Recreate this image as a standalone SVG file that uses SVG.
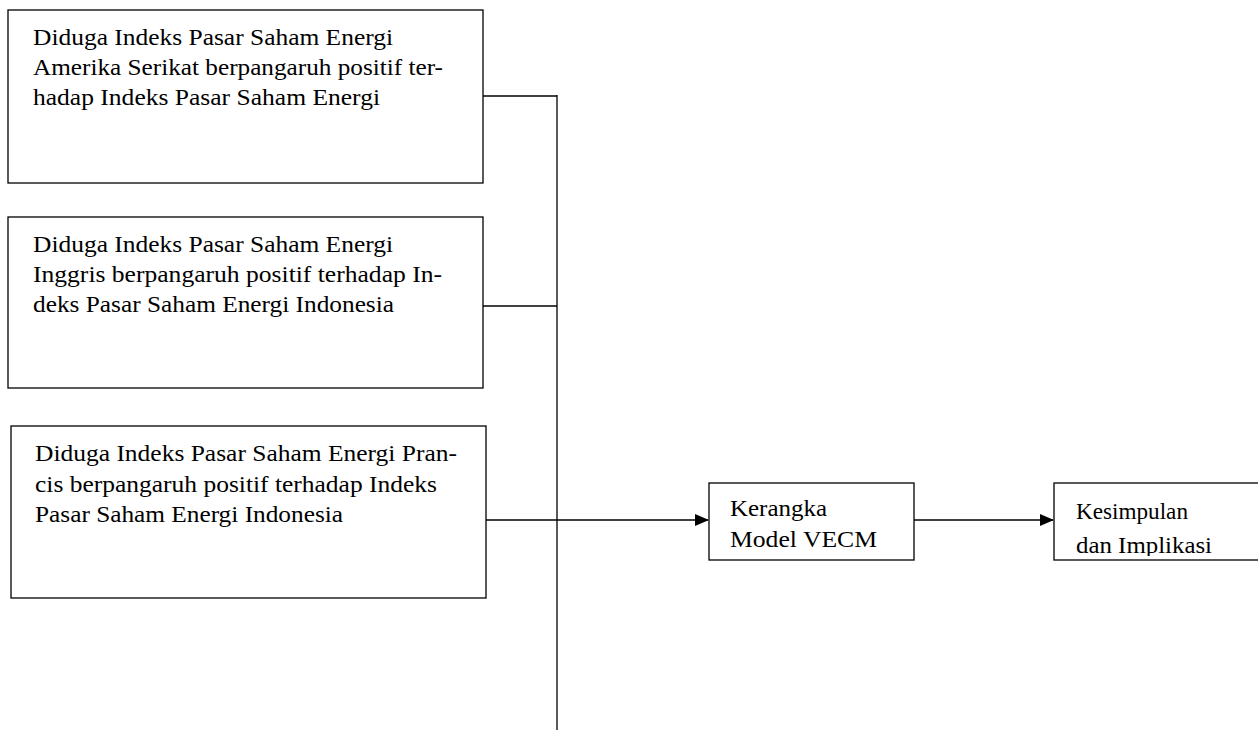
<svg xmlns="http://www.w3.org/2000/svg" width="1258" height="730" viewBox="0 0 1258 730">
<style>
.box{fill:#fff;stroke:#000;stroke-width:1.3}
.t{font-family:"Liberation Serif","Times New Roman",serif;font-size:24px;fill:#000}
.c{fill:none;stroke:#000;stroke-width:1.3}
</style>
<defs>
<marker id="arr" markerWidth="14" markerHeight="14" refX="13" refY="7" orient="auto" markerUnits="userSpaceOnUse">
<path d="M0,1 L14,7 L0,13 Z" fill="#000"/>
</marker>
<clipPath id="clipK"><rect x="1054" y="483" width="210" height="73"/></clipPath>
</defs>
<g id="connectors">
<path class="c" d="M557,95 V730"/>
<path class="c" d="M483,96 H557"/>
<path class="c" d="M483,306 H557"/>
<path class="c" d="M486,520 H708" marker-end="url(#arr)"/>
<path class="c" d="M914,520 H1053" marker-end="url(#arr)"/>
</g>
<g id="node1">
<rect class="box" x="8" y="10" width="475" height="173"/>
<text class="t" x="33" y="45" textLength="360" lengthAdjust="spacingAndGlyphs">Diduga Indeks Pasar Saham Energi</text>
<text class="t" x="33" y="75" textLength="410" lengthAdjust="spacingAndGlyphs">Amerika Serikat berpangaruh positif ter-</text>
<text class="t" x="33" y="105" textLength="347" lengthAdjust="spacingAndGlyphs">hadap Indeks Pasar Saham Energi</text>
</g>
<g id="node2">
<rect class="box" x="8" y="217" width="475" height="171"/>
<text class="t" x="33" y="252" textLength="360" lengthAdjust="spacingAndGlyphs">Diduga Indeks Pasar Saham Energi</text>
<text class="t" x="33" y="282" textLength="409" lengthAdjust="spacingAndGlyphs">Inggris berpangaruh positif terhadap In-</text>
<text class="t" x="33" y="312" textLength="361" lengthAdjust="spacingAndGlyphs">deks Pasar Saham Energi Indonesia</text>
</g>
<g id="node3">
<rect class="box" x="11" y="426" width="475" height="172"/>
<text class="t" x="35" y="461" textLength="422" lengthAdjust="spacingAndGlyphs">Diduga Indeks Pasar Saham Energi Pran-</text>
<text class="t" x="35" y="492" textLength="402" lengthAdjust="spacingAndGlyphs">cis berpangaruh positif terhadap Indeks</text>
<text class="t" x="35" y="522" textLength="308" lengthAdjust="spacingAndGlyphs">Pasar Saham Energi Indonesia</text>
</g>
<g id="node4">
<rect class="box" x="709" y="483" width="205" height="77"/>
<text class="t" x="730" y="516" textLength="97" lengthAdjust="spacingAndGlyphs">Kerangka</text>
<text class="t" x="730" y="547" textLength="147" lengthAdjust="spacingAndGlyphs">Model VECM</text>
</g>
<g id="node5">
<rect class="box" x="1054" y="483" width="210" height="77"/>
<g clip-path="url(#clipK)">
<text class="t" x="1076" y="519" textLength="112" lengthAdjust="spacingAndGlyphs">Kesimpulan</text>
<text class="t" x="1076" y="553" textLength="136" lengthAdjust="spacingAndGlyphs">dan Implikasi</text>
</g>
</g>
</svg>
